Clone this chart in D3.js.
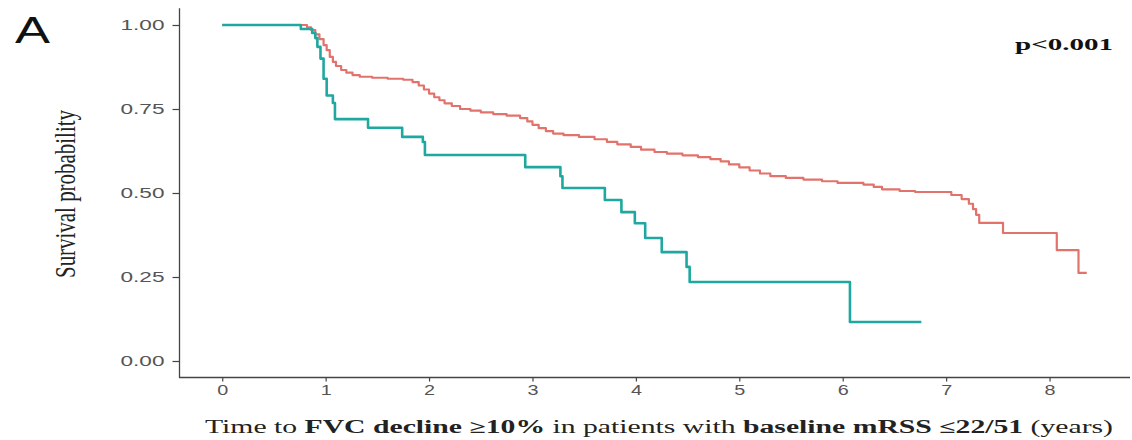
<!DOCTYPE html>
<html>
<head>
<meta charset="utf-8">
<script src="https://cdn.jsdelivr.net/npm/d3@7"></script>
<style>
  html, body { margin: 0; padding: 0; background: #fff; }
  svg { display: block; }
</style>
</head>
<body>
<svg id="chart" width="1132" height="440"></svg>
<script>
// Kaplan–Meier estimates: time to FVC decline >=10%, baseline mRSS <=22/51
// Each pair is (event time in years, survival after the event); last entry is the end of follow-up.
const redTimes = [0, 0.82, 0.86, 0.90, 0.94, 0.98, 1.01, 1.04, 1.07, 1.10, 1.15, 1.20, 1.26, 1.33, 1.45, 1.60,
  1.75, 1.84, 1.90, 1.95, 2.00, 2.05, 2.10, 2.15, 2.22, 2.30, 2.40, 2.50, 2.62, 2.75, 2.88, 2.95, 3.00,
  3.06, 3.13, 3.20, 3.30, 3.45, 3.60, 3.72, 3.82, 3.95, 4.05, 4.18, 4.30, 4.45, 4.60, 4.72, 4.82, 4.90,
  5.00, 5.10, 5.20, 5.30, 5.45, 5.62, 5.80, 5.95, 6.20, 6.30, 6.38, 6.55, 6.70, 7.05, 7.15, 7.22, 7.26,
  7.29, 7.32, 7.55, 8.07, 8.28, 8.36];
const redSurv = [1.000, 0.993, 0.985, 0.972, 0.958, 0.940, 0.925, 0.905, 0.890, 0.878, 0.866, 0.858, 0.851, 0.846, 0.843, 0.840,
  0.837, 0.830, 0.820, 0.808, 0.796, 0.785, 0.776, 0.767, 0.759, 0.750, 0.745, 0.740, 0.735, 0.730, 0.723, 0.713, 0.703,
  0.693, 0.684, 0.677, 0.672, 0.667, 0.660, 0.652, 0.645, 0.637, 0.629, 0.622, 0.617, 0.612, 0.607, 0.601, 0.594, 0.585,
  0.576, 0.567, 0.558, 0.550, 0.545, 0.540, 0.535, 0.530, 0.525, 0.518, 0.511, 0.506, 0.503, 0.494, 0.482, 0.468, 0.452,
  0.435, 0.411, 0.381, 0.330, 0.262, 0.262];

const tealTimes = [0, 0.76, 0.87, 0.90, 0.92, 0.95, 0.98, 1.01, 1.07, 1.09, 1.41, 1.74, 1.94, 1.96, 2.93, 3.27,
  3.29, 3.70, 3.86, 3.99, 4.09, 4.25, 4.49, 4.52, 6.07, 6.76];
const tealSurv = [1.000, 0.988, 0.976, 0.961, 0.935, 0.900, 0.840, 0.790, 0.768, 0.720, 0.694, 0.667, 0.652, 0.613, 0.577, 0.550,
  0.515, 0.479, 0.443, 0.410, 0.366, 0.324, 0.280, 0.235, 0.116, 0.116];

const xTicks = [0, 1, 2, 3, 4, 5, 6, 7, 8];
const yTicks = [0, 0.25, 0.5, 0.75, 1];
const yTickLabels = ["0.00", "0.25", "0.50", "0.75", "1.00"];

const svg = d3.select("#chart");

const x = d3.scaleLinear().domain([-0.418, 8.778]).range([179, 1130]);
const y = d3.scaleLinear().domain([-0.05, 1.05]).range([377.8, 8.2]);

const toPoints = (t, s) => t.map((d, i) => [d, s[i]]);
const line = d3.line().x(d => x(d[0])).y(d => y(d[1])).curve(d3.curveStepAfter);

// survival curves
svg.append("path")
  .datum(toPoints(redTimes, redSurv))
  .attr("d", line)
  .attr("fill", "none")
  .attr("stroke", "#e2736c")
  .attr("stroke-width", 2.2)
  .attr("stroke-linejoin", "round");

svg.append("path")
  .datum(toPoints(tealTimes, tealSurv))
  .attr("d", line)
  .attr("fill", "none")
  .attr("stroke", "#1fa89f")
  .attr("stroke-width", 2.6)
  .attr("stroke-linejoin", "round");

// axes
const axisColor = "#444";
const xAxis = svg.append("g")
  .attr("transform", "translate(0,377.5)")
  .call(d3.axisBottom(x).tickValues(xTicks).tickSize(4).tickPadding(3).tickFormat(d3.format("d")));
const yAxis = svg.append("g")
  .attr("transform", "translate(179.5,0)")
  .call(d3.axisLeft(y).tickValues(yTicks).tickSize(7).tickPadding(8).tickFormat((d, i) => yTickLabels[i]));

[xAxis, yAxis].forEach(g => {
  g.select(".domain").attr("stroke", axisColor).attr("stroke-width", 1.3);
  g.selectAll(".tick line").attr("stroke", axisColor).attr("stroke-width", 1.2);
  g.selectAll(".tick text")
    .attr("fill", "#555")
    .attr("font-family", "Liberation Sans, Arial, sans-serif");
});
// remove outer tick caps from domain paths
xAxis.select(".domain").attr("d", `M${x.range()[0]},0H${x.range()[1]}`);
yAxis.select(".domain").attr("d", `M0,${y.range()[1]}V${y.range()[0]}`);

yAxis.selectAll(".tick text")
  .attr("font-size", 14)
  .attr("textLength", 44)
  .attr("lengthAdjust", "spacingAndGlyphs");
xAxis.selectAll(".tick text")
  .attr("font-size", 15)
  .attr("textLength", 11)
  .attr("lengthAdjust", "spacingAndGlyphs");

// y-axis title
svg.append("text")
  .attr("transform", "translate(75,194) scale(1.5,1) rotate(-90)")
  .attr("text-anchor", "middle")
  .attr("font-family", "Liberation Serif, Times New Roman, serif")
  .attr("font-size", 19)
  .attr("fill", "#222")
  .attr("textLength", 168)
  .attr("lengthAdjust", "spacingAndGlyphs")
  .text("Survival probability");

// x-axis title with bold segments
const xt = svg.append("text")
  .attr("x", 205)
  .attr("y", 433)
  .attr("font-family", "Liberation Serif, Times New Roman, serif")
  .attr("font-size", 18)
  .attr("fill", "#222")
  .attr("textLength", 908)
  .attr("lengthAdjust", "spacingAndGlyphs");
[["Time to ", 400], ["FVC decline \u226510%", 700], [" in patients with ", 400],
 ["baseline mRSS \u226422/51", 700], [" (years)", 400]].forEach(([s, w]) => {
  xt.append("tspan").attr("font-weight", w).text(s);
});

// p-value annotation
svg.append("text")
  .attr("x", 1015)
  .attr("y", 50)
  .attr("font-family", "Liberation Serif, Times New Roman, serif")
  .attr("font-weight", 700)
  .attr("font-size", 17)
  .attr("fill", "#111")
  .attr("textLength", 98)
  .attr("lengthAdjust", "spacingAndGlyphs")
  .text("p<0.001");

// panel letter
svg.append("text")
  .attr("x", 15)
  .attr("y", 43)
  .attr("font-family", "Liberation Sans, Arial, sans-serif")
  .attr("font-size", 36)
  .attr("fill", "#111")
  .attr("textLength", 35)
  .attr("lengthAdjust", "spacingAndGlyphs")
  .text("A");
</script>
</body>
</html>
